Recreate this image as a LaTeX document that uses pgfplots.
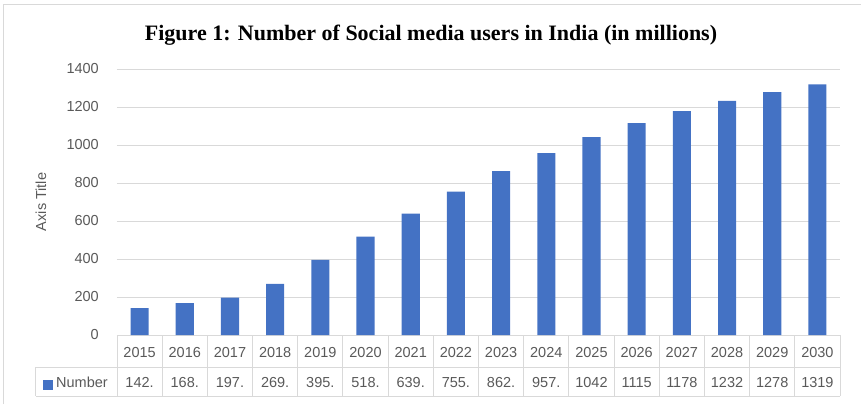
\documentclass[border=0pt]{standalone}
\usepackage{fontspec}
\setmainfont{Liberation Sans}
\newfontfamily\titlefont{Liberation Serif}
\usepackage{pgfplots}
\pgfplotsset{compat=1.18}
\definecolor{barc}{HTML}{4472C4}
\definecolor{txt}{HTML}{595959}
\definecolor{grd}{HTML}{D9D9D9}
\newcommand{\tf}{\fontsize{14.5bp}{17bp}\selectfont}
\begin{document}
\begin{tikzpicture}[x=1bp,y=1bp]
% pixel (px,py) -> (px-117, 335-py)
\path[use as bounding box] (-117,-69) rectangle (744,335);
\draw[grd, line width=1bp] (-113,-69) -- (-113,331) -- (744,331);
\begin{axis}[at={(0,0)}, anchor=south west, scale only axis,
  width=723bp, height=266bp,
  xmin=-0.5, xmax=15.5, ymin=0, ymax=1400,
  ytick={0,200,...,1400}, ymajorgrids,
  grid style={grd, line width=0.9bp},
  axis line style={draw=none}, major tick length=0,
  /pgf/number format/assume math mode=true,
  /pgf/number format/1000 sep={},
  xtick=data,
  xticklabels={2015,2016,2017,2018,2019,2020,2021,2022,2023,2024,2025,2026,2027,2028,2029,2030},
  ticklabel style={font=\tf, text=txt},
  xticklabel style={anchor=base, yshift=-22bp},
  yticklabel style={anchor=east, inner sep=0pt, xshift=-18bp},
  ylabel={Axis Title},
  every axis y label/.style={at={(axis description cs:0,0.5)}, xshift=-76bp, rotate=90, anchor=center, font=\tf, text=txt},
  clip=false,
  ybar, bar width=0.4,
]
\addplot[fill=barc, draw=none] coordinates {
(0,142) (1,168) (2,197) (3,269) (4,395) (5,518) (6,639) (7,755)
(8,862) (9,957) (10,1042) (11,1115) (12,1178) (13,1232) (14,1278) (15,1319)};
\end{axis}
% data table lines
\draw[grd, line width=1bp] (-81,-32) -- (723,-32);
\draw[grd, line width=1bp] (-81,-61) -- (723,-61);
\draw[grd, line width=1bp] (-81,-32) -- (-81,-61);
\foreach \k in {0,...,16} \draw[grd, line width=1bp] (\k*45.1875,0) -- (\k*45.1875,-61);
\fill[barc] (-74,-55) rectangle (-64,-45);
\node[anchor=base west, inner sep=0pt, font=\tf, text=txt] at (-61,-52) {Number};
\foreach \i/\t in {0/142.,1/168.,2/197.,3/269.,4/395.,5/518.,6/639.,7/755.,8/862.,9/957.,10/1042,11/1115,12/1178,13/1232,14/1278,15/1319}
  \node[anchor=base, inner sep=0pt, font=\tf, text=txt] at ({(\i+0.5)*45.1875},-52) {\t};
\node[anchor=base, inner sep=0pt, font=\titlefont\bfseries\fontsize{22bp}{26bp}\selectfont] at (314,295) {Figure 1: Number of Social media users in India (in millions)};
\end{tikzpicture}
\end{document}
